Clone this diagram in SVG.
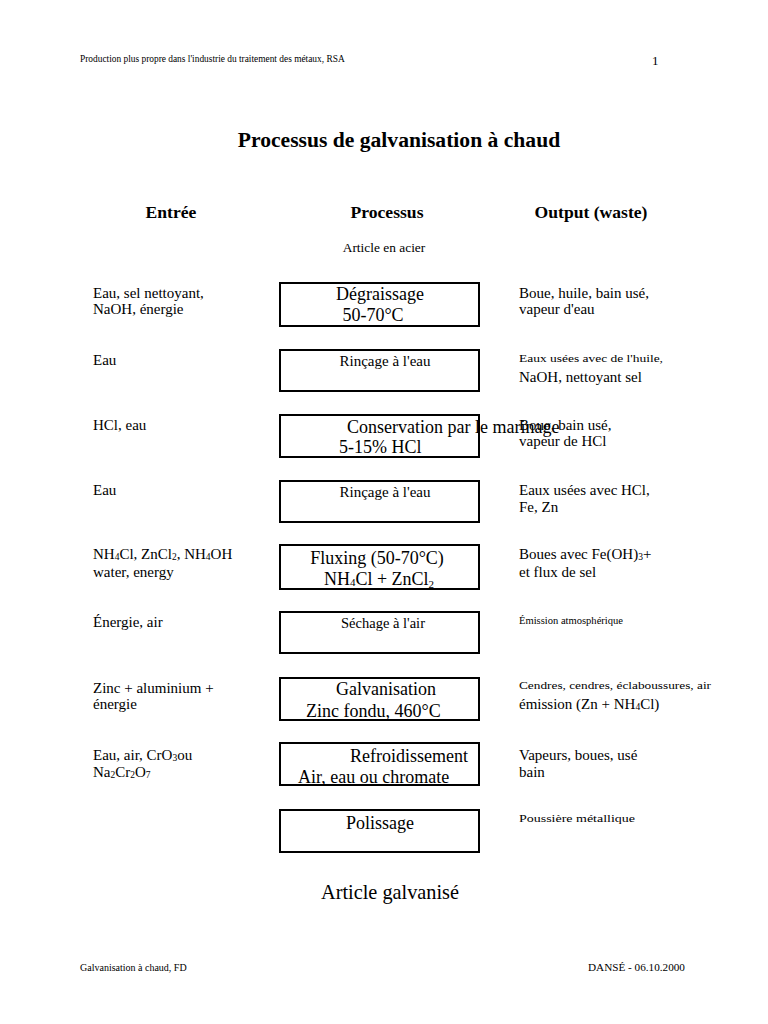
<svg xmlns="http://www.w3.org/2000/svg" width="768" height="1024" viewBox="0 0 768 1024">
<style>
text{font-family:"Liberation Serif","Times New Roman",serif;fill:#000}
.box{fill:#fff;stroke:#000;stroke-width:2}
.hd{font-size:17.6px;font-weight:bold;text-anchor:middle}
.s{font-size:15px}
.sub{font-size:9.5px}
.m{font-size:15px;text-anchor:middle}
.l{font-size:18px}
.lc{font-size:18px;text-anchor:middle}
</style>
<rect width="768" height="1024" fill="#fff"/>
<text x="80" y="62" style="font-size:9.4px">Production plus propre dans l'industrie du traitement des métaux, RSA</text>
<text x="652" y="65" style="font-size:13px">1</text>
<text x="399" y="147" style="font-size:21.6px;font-weight:bold;text-anchor:middle">Processus de galvanisation à chaud</text>
<text x="171" y="218" class="hd">Entrée</text>
<text x="387" y="218" class="hd">Processus</text>
<text x="591" y="218" class="hd">Output (waste)</text>
<text x="384" y="252" style="font-size:13.4px;text-anchor:middle">Article en acier</text>
<g id="connectors"></g>
<g id="inputs">
<text x="93" y="298" class="s">Eau, sel nettoyant,</text>
<text x="93" y="314" class="s">NaOH, énergie</text>
<text x="93" y="365" class="s">Eau</text>
<text x="93" y="430" class="s">HCl, eau</text>
<text x="93" y="495" class="s">Eau</text>
<text x="93" y="559" class="s">NH<tspan class="sub" dy="1">4</tspan><tspan dy="-1">Cl, ZnCl</tspan><tspan class="sub" dy="1">2</tspan><tspan dy="-1">, NH</tspan><tspan class="sub" dy="1">4</tspan><tspan dy="-1">OH</tspan></text>
<text x="93" y="577" class="s">water, energy</text>
<text x="93" y="627" class="s">Énergie, air</text>
<text x="93" y="693" class="s">Zinc + aluminium +</text>
<text x="93" y="709" class="s">énergie</text>
<text x="93" y="760" class="s">Eau, air, CrO<tspan class="sub" dy="1">3</tspan><tspan dy="-1">ou</tspan></text>
<text x="93" y="777" class="s">Na<tspan class="sub" dy="1">2</tspan><tspan dy="-1">Cr</tspan><tspan class="sub" dy="1">2</tspan><tspan dy="-1">O</tspan><tspan class="sub" dy="1">7</tspan></text>
</g>
<g id="n1"><rect class="box" x="280" y="283" width="199" height="43"/>
<text x="380" y="300" class="lc">Dégraissage</text>
<text x="373" y="321" class="lc">50-70°C</text></g>
<g id="n2"><rect class="box" x="280" y="350" width="199" height="41"/>
<text x="385" y="366" class="m">Rinçage à l'eau</text></g>
<g id="n3"><rect class="box" x="280" y="415" width="199" height="42"/>
<text x="339" y="453" class="l">5-15% HCl</text></g>
<g id="n4"><rect class="box" x="280" y="481" width="199" height="41"/>
<text x="385" y="497" class="m">Rinçage à l'eau</text></g>
<g id="n5"><rect class="box" x="280" y="545" width="199" height="44"/>
<text x="377" y="564" class="lc">Fluxing (50-70°C)</text>
<text x="379" y="585" class="lc">NH<tspan style="font-size:11px" dy="1">4</tspan><tspan dy="-1">Cl + ZnCl</tspan><tspan style="font-size:11px" dy="3">2</tspan></text></g>
<g id="n6"><rect class="box" x="280" y="612" width="199" height="41"/>
<text x="383" y="628" style="font-size:14.5px;text-anchor:middle">Séchage à l'air</text></g>
<g id="n7"><rect class="box" x="280" y="678" width="199" height="42"/>
<text x="386" y="695" class="lc">Galvanisation</text>
<text x="306" y="717" class="l">Zinc fondu, 460°C</text></g>
<g id="n8"><rect class="box" x="280" y="743" width="199" height="42"/>
<text x="350" y="762" class="l">Refroidissement</text>
<text x="298" y="783" class="l">Air, eau ou chromate</text></g>
<g id="n9"><rect class="box" x="280" y="810" width="199" height="42"/>
<text x="380" y="829" class="lc">Polissage</text></g>
<g id="outputs">
<text x="519" y="298" class="s">Boue, huile, bain usé,</text>
<text x="519" y="314" class="s">vapeur d'eau</text>
<text x="519" y="362" style="font-size:11px" textLength="144" lengthAdjust="spacingAndGlyphs">Eaux usées avec de l'huile,</text>
<text x="519" y="382" class="s">NaOH, nettoyant sel</text>
<text x="519" y="430" class="s">Boue, bain usé,</text>
<text x="519" y="446" class="s">vapeur de HCl</text>
<text x="519" y="495" class="s">Eaux usées avec HCl,</text>
<text x="519" y="512" class="s">Fe, Zn</text>
<text x="519" y="559" class="s">Boues avec Fe(OH)<tspan class="sub" dy="1">3</tspan><tspan dy="-1">+</tspan></text>
<text x="519" y="577" class="s">et flux de sel</text>
<text x="519" y="624" style="font-size:9.5px" textLength="104" lengthAdjust="spacingAndGlyphs">Émission atmosphérique</text>
<text x="519" y="689" style="font-size:10.5px" textLength="192" lengthAdjust="spacingAndGlyphs">Cendres, cendres, éclaboussures, air</text>
<text x="519" y="709" class="s">émission (Zn + NH<tspan class="sub" dy="1">4</tspan><tspan dy="-1">Cl)</tspan></text>
<text x="519" y="760" class="s">Vapeurs, boues, usé</text>
<text x="519" y="777" class="s">bain</text>
<text x="519" y="822" style="font-size:9.5px" textLength="116" lengthAdjust="spacingAndGlyphs">Poussière métallique</text>
</g>
<text x="347" y="433" class="l">Conservation par le marinage</text>
<text x="390" y="899" style="font-size:20.3px;text-anchor:middle">Article galvanisé</text>
<text x="80" y="971" style="font-size:10px">Galvanisation à chaud, FD</text>
<text x="588" y="971" style="font-size:11.2px">DANSÉ - 06.10.2000</text>
</svg>
